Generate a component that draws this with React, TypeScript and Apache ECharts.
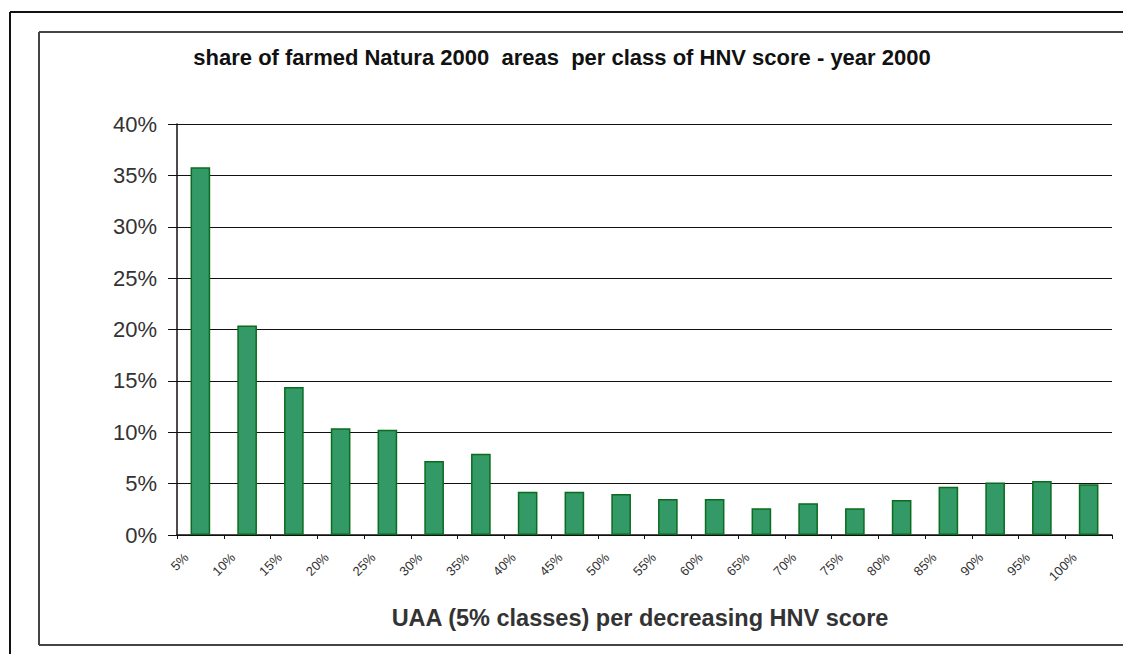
import React, { useEffect, useRef } from "react";
import * as echarts from "echarts";

const categories = ["5%", "10%", "15%", "20%", "25%", "30%", "35%", "40%", "45%", "50%", "55%", "60%", "65%", "70%", "75%", "80%", "85%", "90%", "95%", "100%"];
const shares = [35.8, 20.4, 14.4, 10.4, 10.25, 7.2, 7.9, 4.2, 4.2, 4.0, 3.5, 3.5, 2.6, 3.1, 2.6, 3.4, 4.7, 5.1, 5.25, 4.95];
const titleText = "share of farmed Natura 2000  areas  per class of HNV score - year 2000";
const xAxisTitle = "UAA (5% classes) per decreasing HNV score";

export default function App() {
  const ref = useRef<HTMLDivElement>(null);
  useEffect(() => {
    document.body.style.margin = "0";
    document.body.style.overflow = "hidden";
    document.documentElement.style.overflow = "hidden";
    const chart = echarts.init(ref.current!, null, { renderer: "svg" });
    const font = "Arial, 'Liberation Sans', sans-serif";
    chart.setOption({
      animation: false,
      backgroundColor: "#ffffff",
      textStyle: { fontFamily: font },
      graphic: [
        { type: "rect", z: 100, shape: { x: 1114, y: 0, width: 20, height: 700 }, style: { fill: "#ffffff" } },
        { type: "line", z: 101, shape: { x1: 10, y1: 12, x2: 1200, y2: 12 }, style: { stroke: "#111", lineWidth: 2 } },
        { type: "line", z: 101, shape: { x1: 10, y1: 12, x2: 10, y2: 700 }, style: { stroke: "#111", lineWidth: 2 } },
        { type: "line", z: 101, shape: { x1: 39, y1: 32, x2: 1200, y2: 32 }, style: { stroke: "#444", lineWidth: 2 } },
        { type: "line", z: 101, shape: { x1: 39, y1: 32, x2: 39, y2: 645 }, style: { stroke: "#444", lineWidth: 2 } },
        { type: "line", z: 101, shape: { x1: 39, y1: 645, x2: 1200, y2: 645 }, style: { stroke: "#444", lineWidth: 2 } },
        {
          type: "text",
          x: 562,
          y: 57,
          style: { text: titleText, fontSize: 22, fontWeight: "bold", fill: "#111", align: "center", verticalAlign: "middle", fontFamily: font },
        },
        {
          type: "text",
          x: 640,
          y: 618,
          style: { text: xAxisTitle, fontSize: 23.5, fontWeight: "bold", fill: "#333", align: "center", verticalAlign: "middle", fontFamily: font },
        },
      ],
      grid: { left: 177, right: 11, top: 124, bottom: 119, containLabel: false },
      xAxis: {
        type: "category",
        data: categories,
        axisLine: { lineStyle: { color: "#111", width: 1.5 } },
        axisTick: { show: true, length: 4, lineStyle: { color: "#111" } },
        axisLabel: { rotate: 45, fontSize: 13, color: "#333", margin: 6, padding: [0, 20, 0, 0], interval: 0 },
      },
      yAxis: {
        type: "value",
        min: 0,
        max: 40,
        interval: 5,
        axisLine: { show: true, lineStyle: { color: "#111", width: 1.5 } },
        axisTick: { show: true, length: 9, lineStyle: { color: "#111" } },
        axisLabel: { formatter: "{value}%", fontSize: 22, color: "#333", margin: 20 },
        splitLine: { show: true, lineStyle: { color: "#111", width: 1.2 } },
      },
      series: [
        {
          type: "bar",
          data: shares,
          barWidth: "42%",
          itemStyle: { color: "#339966", borderColor: "#0b6b1e", borderWidth: 1.5 },
        },
      ],
    });
    return () => chart.dispose();
  }, []);
  return <div ref={ref} style={{ width: 1123, height: 654, overflow: "hidden" }} />;
}
